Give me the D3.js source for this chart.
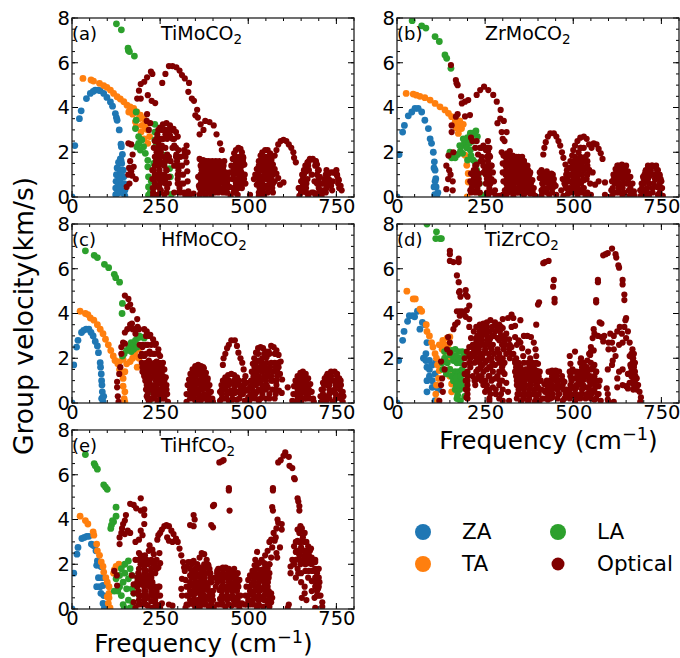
<!DOCTYPE html>
<html><head><meta charset="utf-8">
<script src="https://cdn.jsdelivr.net/npm/d3@7/dist/d3.min.js"></script>
<style>html,body{margin:0;padding:0;background:#fff}svg{display:block;font-family:"DejaVu Sans",sans-serif}</style>
</head><body><svg id="c" width="680" height="658"></svg>
<script>
const names=["TiMoCO","ZrMoCO","HfMoCO","TiZrCO","TiHfCO"];
const letters=["(a)","(b)","(c)","(d)","(e)"];
const xTicks=[0,250,500,750], yTicks=[0,2,4,6,8];
const legendItems=["ZA","TA","LA","Optical"];
const colors={ZA:"#1f77b4",TA:"#ff7f0e",LA:"#2ca02c",Optical:"#800000"};

const zaA=[[0,0],[8,2.3],[21,3.5],[26,3.85],[41,4.4],[52,4.63],[60,4.72],[66,4.78],[74,4.78],[80,4.75],[90,4.63],[99,4.45],[109,4.25],[115,4.06],[123,3.73],[126,3.55],[128,3.43],[134,3.0],[139,2.36],[140,2.25],[143,1.9],[139,1.64],[124,.1],[124,.4],[125,.7],[126,1],[128,1.3],[132,1.55],[137,1.7],[141,1.5],[145,1.2],[147,.9],[148,.6],[150,.3],[150,.05],[131,.2],[131,.6],[133,.9],[136,1.2],[140,1],[141,.6],[141,.2],[136,.4],[136,.8],[128,.15]];
const taA=[[31,5.3],[54,5.23],[61,5.18],[78,5.08],[90,4.98],[99,4.9],[109,4.78],[118,4.63],[128,4.48],[137,4.38],[147,4.26],[156,4.1],[161,3.8],[165,4.03],[175,3.96],[184,3.8],[194,3.66],[203,3.5],[211,3.28],[215,3],[220,2.7],[180,3.36],[182,3.13],[199,3.2],[208,3.06],[196,2.9],[205,2.6],[215,2.4],[190,3.5],[172,3.7]];
const laA=[[126,7.74],[140,7.47],[159,6.65],[160,6.55],[163,6.5],[177,6.3],[182,3.8],[182,3.43],[180,3.06],[189,2.7],[189,2.4],[198,2.55],[203,2.25],[184,2.24],[194,2.1],[208,1.95],[215,1.64],[235,3.25],[235,2.9],[235,2.55],[237,2.25],[250,2.1],[265,1.87],[274,1.64],[277,1.27],[279,.9],[282,.12],[215,1.35],[217,.9],[217,.45],[217,.08],[232,1.5],[222,.2],[225,.7]];
const opA=[[160,2.4],[168,2.35],[172,1.9],[165,1.6],[162,1.3],[160,1],[168,1.15],[175,1.35],[181,.8],[155,.45],[163,.6],[171,.95],[185,4.4],[195,4.4],[190,4.75],[195,5.05],[205,5.15],[213,5.35],[224,5.6],[228,5.5],[215,4.55],[213,3.7],[212,3.4],[222,3.3],[218,3],[226,4.3],[236,4.2],
[265,5.5],[256,5.1],[275,5.85],[285,5.85],[296,5.8],[305,5.65],[312,5.45],[320,5.3],[332,5.1],[330,4.7],[340,4.4],[346,4.3],[355,3.9],[350,3.65],[357,3.55],[365,3.25],[373,3],[362,2.8],[378,3.4],[390,3.35],[402,3.2],[410,2.8],[420,2.4],[425,2.1],[432,1.6],
[228,1.2],[228,.8],[229,.4],[230,.05],[235,2.5],[242,2.8],[250,3.1],[258,3.25],[268,3.3],[278,3.2],[288,3.05],[295,2.9],[300,2.7],[245,2.4],[255,2.6],[265,2.8],[278,2.75],[290,2.6],[240,2],[252,2],[240,1.5],[253,1.5],[241,1],[253,1],[241,.5],[242,.1],[260,1.5],[268,1.2],[275,.9],[258,.8],[265,.6],[252,.3],[262,.1],[270,1.9],[280,1.6],[255,2.3],
[290,2.3],[302,2.1],[308,1.8],[312,1.4],[315,1],[316,.6],[318,.2],[322,.05],[296,1.9],[298,1.4],[300,1],[302,.6],[303,.2],[318,2.1],[325,2.3],[320,1.95],[328,2],[325,1.55],[327,1.15],[328,.7],[330,.25],[332,.05],[345,.15],
[362,1.7],[368,1.3],[358,.9],[360,.5],[362,.1],[372,1.65],[380,1.6],[390,1.55],[400,1.55],[410,1.5],[420,1.45],[428,1.3],[436,1.1],[442,.8],[447,.45],[375,1.2],[385,1.2],[395,1.2],[405,1.2],[415,1.15],[425,1],[375,.8],[385,.85],[395,.85],[405,.8],[415,.8],[428,.65],[375,.4],[385,.45],[398,.45],[410,.4],[425,.3],[437,.2],[378,.05],[395,.05],[450,.05],[470,.1],
[448,1.1],[452,1.4],[456,1.7],[460,1.95],[465,2.1],[472,2.2],[478,2.15],[482,2],[486,1.75],[489,1.45],[465,1.5],[472,1.6],[478,1.4],[462,1.2],[470,1.05],[480,1.1],[456,.8],[465,.7],[458,.4],[490,1],[492,.6],[505,.1],
[516,.8],[520,1],[524,1.25],[530,1.6],[535,1.85],[540,2],[548,2.1],[555,2.1],[562,1.95],[566,1.7],[570,1.45],[575,1.25],[580,1.05],[585,.85],[535,1.2],[545,1.6],[555,1.7],[565,1.2],[545,1.2],[555,1.3],[540,.9],[550,.9],[562,.9],[535,.6],[550,.5],[565,.5],[575,.7],[524,.55],[530,.05],[545,.05],[600,.65],[590,.55],
[575,1.85],[580,2.1],[585,2.35],[592,2.5],[600,2.55],[608,2.5],[615,2.35],[622,2.2],[628,2],[630,1.75],[635,1.55],[645,.4],
[643,.4],[645,.05],[650,.7],[650,.2],[653,1],[658,1.2],[662,1.4],[668,1.55],[675,1.7],[683,1.7],[690,1.6],[695,1.45],[700,1.2],[703,.9],[706,.6],[708,.3],[708,.05],[665,1.15],[672,1.2],[680,1],[688,.7],[662,.7],[660,.3],[670,.05],[655,.45],[685,.2],[692,.05],
[712,.6],[716,.8],[720,1],[728,1.05],[735,1.1],[742,1.1],[748,1.05],[752,.95],[757,.75],[762,.5],[765,.3],[730,.75],[735,.5],[738,.3],[740,.7],[722,.4]];
const rowsA=[[.2,[230,250,268,290,310,365,372,388,392,405,415,428,440,458,465,530,540,555,570,650,665,680,700,720]],[.6,[235,250,275,300,310,365,372,380,392,405,418,432,440,465,475,485,528,540,560,570,655,665,695,725,755]],[1,[235,247,262,305,365,372,382,392,402,412,422,432,440,458,475,485,528,545,560,570,658,695,725,752]],[1.4,[235,247,262,290,305,365,372,382,392,402,412,422,430,460,470,482,530,540,550,560,670,690]],[1.8,[235,248,262,275,295,305,322,465,475,485,540,550,555,560]],[2.2,[232,245,255,265,285,295]],[2.6,[240,250,260,270,285]],[3,[245,255,265,275,285]],
[.4,[232,248,270,305,362,370,380,390,400,410,420,430,440,462,472,482,532,545,558,568,652,664,700,722,758]],[.8,[232,246,265,300,365,375,385,395,405,415,425,435,445,468,478,488,530,542,552,565,655,668,700,728,755]],[1.2,[232,248,268,302,368,378,388,398,408,418,428,458,468,478,530,540,550,562,662,698,722,750]],[1.6,[238,250,265,298,368,378,388,398,408,418,465,475,485,535,545,555,565,672,692]]];

const zaB=[[0,0],[6,1.9],[16,2.9],[21,3.2],[32,3.63],[42,3.8],[51,3.96],[60,3.96],[70,3.8],[79,3.43],[89,3.06],[94,2.6],[98,2.4],[103,2],[106,1.57],[105,1.3],[108,1.2],[110,.82],[111,.45],[113,.08],[105,.45],[108,.7],[116,.2],[107,.1]];
const taB=[[26,4.63],[46,4.6],[55,4.55],[65,4.5],[79,4.44],[94,4.33],[108,4.18],[122,4.03],[136,3.89],[146,3.74],[155,3.59],[165,3.36],[174,3.2],[183,3.06],[174,2.84],[193,1.87],[198,1.42],[202,1.05],[202,.67],[199,0],[178,3.4],[168,3.1],[188,3.25]];
const laB=[[43,7.88],[70,7.65],[82,7.55],[108,7.17],[120,6.95],[136,6.35],[141,6.2],[153,5.75],[150,2],[155,1.75],[165,1.75],[172,1.9],[180,2.05],[186,2.3],[192,2.45],[200,2.65],[208,2.85],[214,2.85],[224,2.95],[228,2.7],[216,2.5],[205,2.4],[198,2.2],[188,2.6],[178,2.3],[186,1.95],[208,2.1],[210,1.85],[216,1.65],[226,1.2],[234,.6],[240,.08],[222,1.55],[230,.95],[200,1.65]];
const opB=[[153,5.9],[167,5.23],[169,5.08],[172,5],[182,4.5],[184,4.18],[193,4.26],[202,4.33],[167,3.59],[172,3.7],[193,3.6],[207,3.66],[155,2.9],[155,3.2],[160,2],[146,1.85],[140,1.4],[148,1.2],[140,.35],[145,.8],[152,1],[158,.7],[158,.3],
[226,4.56],[236,4.78],[247,4.93],[259,4.78],[273,4.56],[283,4.26],[294,3.89],[293,3.5],[303,3.4],[311,2.9],[300,2.6],[297,2.9],[305,2.5],[285,3.3],[214,2.5],[210,2.65],[226,2.5],[235,2.2],[245,2.3],[252,2.1],[258,2.05],[262,1.85],[268,1.4],[272,1.1],[275,.7],[278,.3],[280,.05],[258,2.5],[262,2.2],[222,2.2],[230,1.9],[238,1.6],[246,1.1],[252,.6],[255,.2],[258,.05],
[208,.3],[208,.7],[210,1.05],[218,1.2],[226,1.45],[232,1.05],[234,.6],[225,.8],[215,.5],[222,.25],[232,.2],[290,.05],[300,.1],[310,.05],
[297,2],[302,1.85],[312,1.95],[320,2.05],[300,1.5],[300,1.1],[302,.7],[306,.3],[328,1.85],[338,1.8],[350,1.75],[360,1.6],[370,1.4],[378,1.1],[384,.75],[388,.4],[392,.05],[315,1.5],[325,1.5],[338,1.5],[350,1.4],[360,1.2],[370,.9],[375,.5],[378,.15],[315,1.1],[325,1.15],[338,1.15],[350,.95],[360,.8],[315,.65],[325,.7],[340,.7],[352,.55],[362,.4],[320,.25],[332,.3],[345,.2],[360,.1],[330,.05],
[405,.85],[405,1.1],[415,1],[425,1.15],[438,1.05],[445,.8],[450,.5],[452,.1],[412,.6],[410,.3],[410,.05],[422,.8],[432,.7],[438,.4],[432,.1],[420,.35],
[415,1.9],[418,2.2],[422,2.45],[428,2.7],[435,2.85],[445,2.85],[452,2.7],[458,2.5],[463,2.3],[468,2],[472,1.75],[478,1.45],[482,1.2],[486,.95],[488,.7],[466,.3],[470,.8],[478,.5],[485,.15],[490,.4],[472,.05],[492,1],
[490,1.3],[492,1.6],[497,1.85],[500,2.1],[505,2.3],[512,2.5],[520,2.65],[530,2.7],[538,2.6],[545,2.35],[552,2.2],[558,2.4],[566,2.35],[572,2.15],[578,1.95],[583,1.7],[500,1.5],[508,1.7],[515,2],[522,2.2],[530,2.2],[510,1.3],[520,1.6],[530,1.75],[540,1.9],[505,1],[516,1.05],[530,1.25],[545,1.2],[505,.6],[515,.7],[530,.75],[540,1.6],[505,.25],[518,.3],[530,.4],[535,.05],[512,.05],[555,1.1],[562,.55],[548,.6],[572,.7],[590,.65],[550,.1],[590,.1],
[608,.3],[610,.7],[614,1],[620,1.25],[628,1.4],[638,1.45],[648,1.35],[655,1.15],[662,.9],[668,.6],[672,.25],[674,.05],[610,.05],[622,.7],[622,.2],[635,.9],[645,.9],[652,.6],[658,.3],[632,.5],[640,.05],[660,.05],
[690,.3],[694,.6],[698,.9],[705,1.15],[712,1.3],[722,1.4],[732,1.35],[740,1.2],[745,.95],[750,.7],[752,.4],[754,.05],[692,.05],[705,.7],[705,.3],[715,.9],[725,1],[732,.8],[738,.45],[740,.1],[700,.05],[715,.05]];
const rowsB=[[.2,[210,222,235,262,270,315,328,340,352,365,378,385,412,425,440,495,510,525,540,615,630,645,665,697,710,725,745]],[.6,[212,225,232,258,265,310,320,332,345,358,368,380,415,430,445,475,498,510,522,618,630,642,660,700,715,728,745]],[1,[215,228,252,262,308,320,332,345,358,368,376,410,430,442,480,498,512,525,540,618,628,640,652,702,715,730,745]],[1.4,[222,245,258,268,308,320,332,345,355,365,498,512,525,540,625,640,650,712,725,735]],[1.8,[240,255,264,308,320,332,345,355,505,520,535]],[2.2,[240,250,258,520]],
[.4,[212,228,262,312,322,335,348,360,372,384,415,428,442,480,500,512,528,612,628,640,662,695,710,725,748]],[.8,[218,232,255,268,312,325,338,350,362,374,412,425,438,482,500,512,528,538,615,628,642,656,700,712,735,748]],[1.2,[224,250,262,310,325,338,350,362,372,410,500,515,530,545,622,635,648,706,720,738]],[1.6,[242,258,310,325,338,350,360,505,518,532]]];

const zaC=[[0,0],[5,1.7],[13,2.5],[17,2.8],[27,3.15],[33,3.25],[40,3.3],[48,3.3],[54,3.15],[60,3],[66,2.75],[72,2.55],[75,2.25],[80,1.8],[81,1.6],[83,1.3],[84,1],[85,.8],[86,.5],[87,.25],[88,.05],[84,.2],[90,.3]];
const taC=[[23,4.1],[38,4],[45,3.95],[52,3.8],[62,3.7],[72,3.5],[80,3.3],[88,3.1],[95,2.85],[103,2.6],[110,2.35],[117,2.1],[122,1.9],[130,1.75],[135,1.5],[140,1.3],[145,1.1],[145,.75],[150,.5],[148,.2],[150,.05],[155,1.75],[165,1.85],[178,2.2],[172,2],[188,2.4],[190,2],[145,1.95],[135,1.85],[150,1.4],[185,1.6]];
const laC=[[38,6.8],[63,6.6],[72,6.5],[92,6.2],[104,6.05],[120,5.75],[124,5.6],[135,5.4],[143,4.45],[142,4],[143,2.1],[148,2.2],[155,2.35],[163,2.55],[168,2.7],[175,2.6],[180,2.8],[186,2.9],[190,3],[195,2.95],[205,2.9],[168,2.3],[175,2.4],[185,2.5],[205,1.35],[215,1],[218,.5],[220,.1]];
const opC=[[150,4.8],[160,4.65],[158,4.3],[165,4.4],[172,4.15],[170,3.55],[178,3.3],[185,3.75],[186,3.4],[180,3.1],[190,3.3],[150,3.15],[165,3.5],[172,3.3],[157,3.3],[140,2.5],[145,2.7],[150,2.65],[140,2.2],[137,1.6],[134,1.3],[128,.95],[128,.7],[130,.3],[132,.05],
[205,3.3],[212,3.2],[222,3.05],[230,2.85],[238,2.65],[245,2.4],[250,2.1],[258,1.8],[262,1.5],[266,1.15],[268,.8],[270,.4],[272,.05],[192,2.6],[200,2.5],[210,2.6],[220,2.3],[230,2.2],[240,1.85],[195,2.1],[205,2.1],[218,1.9],[228,1.6],[240,1.3],[250,1],[255,.6],[255,.2],[205,1.6],[215,1.4],[222,1.1],[232,1.2],[235,.8],[225,.6],[228,.2],[240,.4],[243,.05],[212,.3],[218,.05],[205,1.3],[250,1.5],
[325,.05],[325,.4],[328,.8],[332,1.05],[336,1.3],[342,1.5],[350,1.65],[358,1.7],[366,1.65],[374,1.55],[380,1.35],[385,1.1],[390,.8],[394,.5],[398,.2],[400,.05],[340,1],[350,1.25],[362,1.35],[372,1.1],[378,.8],[340,.6],[350,.85],[362,.95],[372,.65],[345,.4],[358,.55],[368,.3],[350,.1],[365,.1],[382,.3],[385,.05],
[420,.1],[420,.5],[424,.8],[428,1],[435,1.15],[443,1.25],[452,1.3],[460,1.25],[468,1.15],[473,1],[480,.7],[485,.4],[490,.1],[435,.75],[445,.9],[455,.9],[465,.8],[472,.5],[440,.4],[450,.55],[462,.45],[468,.15],[430,.2],[445,.1],[455,.15],
[428,1.7],[430,2],[435,2.2],[440,2.45],[445,2.6],[452,2.8],[462,2.8],[468,2.55],[472,2.25],[478,2],[483,1.8],[487,1.5],[492,1.2],[495,.9],[497,.55],[500,.25],[502,.05],
[505,.3],[505,.7],[508,1],[510,1.4],[513,1.75],[517,2],[522,2.25],[528,2.45],[535,2.5],[542,2.45],[550,2.3],[552,2.05],[558,2.3],[565,2.55],[572,2.5],[580,2.35],[586,2.15],[592,1.85],[520,1.6],[530,1.9],[540,2],[525,1.2],[535,1.5],[545,1.6],[555,1.4],[530,.9],[545,1.1],[558,1.2],[570,1],[525,.5],[540,.6],[555,.7],[568,.6],[530,.1],[550,.2],[590,1.3],[596,1.05],[587,.55],[595,.45],[612,.7],
[625,.1],[628,.4],[630,.75],[634,1],[640,1.2],[648,1.35],[655,1.4],[663,1.3],[670,1.1],[676,.85],[680,.5],[684,.2],[686,.05],[645,.85],[655,1],[664,.8],[670,.4],[642,.45],[655,.5],[660,.2],[635,.05],[650,.05],
[705,.3],[708,.6],[712,.9],[717,1.1],[725,1.3],[735,1.4],[745,1.4],[752,1.3],[758,1.1],[763,.8],[768,.5],[770,.3],[708,.05],[725,.8],[740,1],[750,.8],[725,.3],[742,.5],[755,.3],[722,.05],[740,.05],[768,.05]];
const rowsC=[[.2,[215,225,235,250,262,335,345,358,375,390,425,438,455,475,510,520,535,560,575,640,650,665,675,715,730,748,762]],[.6,[210,222,232,245,258,268,335,345,358,368,385,425,435,460,478,492,512,530,550,578,640,650,660,672,712,730,745,760]],[1,[208,220,238,248,262,335,345,360,372,384,432,445,460,470,488,510,520,535,550,565,580,640,650,664,718,732,750,762]],[1.4,[200,212,225,235,245,255,345,355,365,372,515,525,540,555,570,582]],[1.8,[198,210,222,235,248,522,538,552,565,575,585]],[2.2,[198,210,222,235,245,528,545,560,575,580]],[2.6,[200,215,225,235]],[3,[210,220]],
[.4,[215,232,248,262,335,348,360,375,388,425,440,455,478,508,520,540,560,578,635,650,665,712,730,748,765]],[.8,[212,225,240,255,338,350,365,378,385,430,445,460,475,488,510,522,540,552,580,640,655,668,715,730,748,760]],[1.2,[205,218,235,245,258,340,352,368,378,515,530,545,565,582,645,660,722,735,752]],[1.6,[200,215,230,242,255,350,362,372,518,532,548,562,578,586]]];

const zaD=[[0,0],[5,1.9],[16,2.8],[20,3.2],[30,3.65],[35,3.9],[45,3.9],[50,3.85],[58,4.1],[65,3.3],[72,3.6],[80,3.5],[85,2.7],[75,2],[82,2.2],[82,1.9],[92,1.9],[85,1.6],[92,1.5],[100,1.7],[85,1],[92,1.2],[100,1],[108,1.3],[85,.5],[112,.7],[100,.7],[118,.6],[108,.1],[110,1.8]];
const taD=[[28,5],[46,4.65],[52,4.65],[65,4.2],[70,4.1],[83,3.5],[85,3.2],[92,3],[98,2.7],[102,2.5],[108,2.2],[112,2],[115,1.7],[120,1.45],[118,1.1],[112,.8],[110,.4],[115,.1],[130,2.8],[135,2.6],[128,2.4],[135,2.3],[142,2.9],[150,2.95],[120,2.6],[145,2.6],[140,1.9],[155,2],[150,1.5],[150,1.2],[155,.85],[155,.5]];
const laD=[[85,8],[112,7.65],[110,7.35],[122,7.35],[126,7.35],[135,2.3],[128,1.8],[130,1.5],[135,2],[143,1.8],[150,2.15],[155,2.35],[165,2.4],[175,2.3],[185,2.3],[190,2.1],[140,1.3],[150,1.5],[160,1.9],[170,1.8],[180,1.8],[165,1.4],[175,1.4],[185,1.5],[160,1],[172,1],[185,1],[165,.6],[178,.6],[190,.7],[170,.2],[180,.1],[192,.3],[155,1.2],[168,1.15],[180,1.2],[168,.8],[182,.8],[175,2],[158,2.1],[165,2.1],[185,2],[172,.35]];
const opD=[[150,6.8],[150,6.65],[150,6.35],[160,6.3],[175,6.3],[175,6.45],[170,5.7],[175,5.4],[178,5],[176,4.95],[195,5.05],[195,4.85],[180,4.75],[200,4.75],[205,4.35],[198,4.15],[170,4.1],[178,4.1],[185,4.1],[190,3.95],[195,3.85],[205,3.4],[205,3.75],[165,3.5],[160,3.3],[172,3.6],[178,3.9],[145,2.95],[150,2.7],[142,2.4],[150,2.25],[125,1.85],[135,1.5],[130,.5],[125,.8],[128,1.1],[120,.1],
[192,2],[192,1.7],[192,1.3],[195,1],[195,.6],[197,.25],[198,2.3],[205,2.5],[210,2.9],[218,3.2],[225,3.4],[235,3.5],[245,3.55],[255,3.6],[265,3.7],[278,3.6],[290,3.5],[300,3.35],[310,3.1],[318,2.85],[325,2.5],[330,2.2],[335,1.9],[340,1.5],[345,1.1],[348,.8],[350,.4],[352,.05],
[205,2.1],[215,2.6],[225,2.9],[235,3],[245,3.1],[252,3.3],[215,2.1],[228,2.4],[240,2.6],[255,2.8],[265,2.9],[275,3],[225,1.9],[240,2.2],[250,2.3],[265,2.5],[285,2.9],[230,1.5],[242,1.7],[255,1.9],[268,2],[278,1.7],[240,1.2],[255,1.5],[265,1.6],[245,.8],[260,1.2],[280,1.1],[255,.6],[262,.1],[272,.7],[280,.4],[270,1.05],[215,1.2],[225,1.05],[240,1],[250,.5],[290,1.4],[292,1],[285,2.3],[295,2],[300,1.7],[305,1.3],[310,.9],[315,.5],[318,.1],[300,.1],
[300,3.75],[315,3.8],[325,3.95],[330,3.8],[325,3.4],[335,3.45],[350,3.7],[360,3],[335,2.95],[345,2.8],[350,2.7],[355,2.45],[358,2.1],[340,2.6],
[370,3],[380,2.95],[388,2.7],[393,2.4],[395,2.1],[400,1.75],[402,1.4],[408,1],[410,.6],[412,.2],[372,2.3],[378,2],[385,1.7],[392,1.3],[398,.9],[402,.4],[405,.1],[360,1.8],[365,1.5],[355,1.2],[370,1.1],[378,.8],[360,.7],[370,.4],[385,.4],[390,.05],[372,.05],[358,.2],[380,1.3],
[395,1.45],[400,.7],[430,1.4],[440,1.45],[450,1.45],[460,1.4],[468,1.2],[475,.95],[480,.6],[485,.3],[433,1],[445,1.1],[457,1],[465,.7],[435,.6],[450,.7],[460,.4],[440,.25],[470,.1],[428,.15],[420,.5],[418,.85],
[490,2.1],[492,1.75],[498,1.5],[503,1.4],[495,1.1],[505,1.1],[515,1.2],[495,.7],[510,.7],[520,.85],[500,.35],[515,.3],[525,.4],[505,.05],[530,1.4],[535,1.6],[540,1.9],[548,2.15],[550,2.3],[558,2.35],[530,1.05],[540,1.2],[550,1.5],[560,1.7],[565,1.4],[535,.7],[550,.9],[565,1],[572,.75],[540,.35],[555,.5],[572,.4],[578,.1],[560,.15],[505,2.3],[595,.65],[598,.4],[598,.15],
[395,3.5],[400,4.4],[403,4.5],[415,6.25],[420,6.3],[430,6.35],[445,5.5],[443,5.2],[447,4.65],[447,4.5],
[570,5.5],[570,5.4],[565,4.6],[565,4.5],[575,3.6],[580,3.55],[558,3.3],[560,3.1],[555,2.9],[570,3],[580,2.95],[588,3],[585,2.75],[550,2.5],[545,2.2],
[585,6.6],[592,6.65],[598,6.7],[610,6.9],[620,6.65],[622,6.5],[628,6.15],[630,6.05],[640,5.5],[640,5.3],[645,4.85],[645,4.6],[650,3.8],[648,3.7],[645,3.4],[638,3.1],[632,3.4],[625,3.2],[615,3],[605,3.1],[610,2.7],[600,2.7],[615,2.4],[630,2.6],[640,2.7],[650,2.9],[660,2.7],[655,3.2],[600,2.4],[612,1.9],[610,1.7],[598,1.5],[620,2.1],[630,1.4],[625,1.1],[640,1.5],[625,.7],[640,.8],[650,.75],[660,.9],[655,1.3],[665,1.2],[655,.65],[668,2.4],[670,2],[672,1.7],[675,1.4],[680,1.1],[684,.8],[688,.5],[692,.25],[690,.05],[662,1.7],[660,2.1],[600,.05],[615,.05]];
const rowsD=[[.2,[200,262,290,340,360,375,395,420,435,455,475,490,510,520,535,550,565]],[.6,[200,262,280,300,345,360,375,390,405,425,440,455,472,490,505,525,545,560,670,680]],[1,[200,220,250,268,298,340,352,362,378,385,395,405,425,438,452,470,495,515,525,545,555,575,670,675]],[1.4,[200,225,245,272,300,335,345,358,372,385,405,435,445,455,490,510,520,540,565,665,670]],[1.8,[205,220,235,250,270,290,305,335,345,372,385,395,520,530,550,668,675]],[2.2,[212,222,235,245,260,275,290,310,325,665,672]],[2.6,[218,230,248,260,272,298,308,320]],[3,[228,240,255,270,295,305]],[3.4,[240,255,270,285,295]],
[.4,[200,265,295,342,362,378,392,428,442,458,478,492,508,522,538,552,568]],[.8,[200,222,255,290,340,352,365,380,395,428,440,455,470,492,508,528,548,562,672,682]],[1.2,[200,232,262,285,338,350,365,378,390,402,440,452,492,512,528,548,560,668,676]],[1.6,[208,238,262,298,338,350,376,388,525,538,556,664,672]],[2,[208,228,242,262,285,300,320,338,522,668]],[2.4,[218,232,250,268,285,302,318]],[2.8,[225,240,262,290,305]],[3.2,[235,248,262,278,292]]];

const zaE=[[0,0],[5,1.6],[14,2.45],[17,2.75],[28,3.15],[35,3.2],[42,3.25],[48,3.25],[55,2.9],[60,2.85],[65,2.8],[68,2.6],[72,2.15],[70,1.95],[78,2],[82,1.9],[75,1.4],[85,1.4],[70,1],[80,1],[88,1.05],[82,.7],[90,.6],[88,.25],[92,.05],[95,.2]];
const taE=[[23,4.15],[38,3.95],[45,3.8],[60,3.45],[62,3.3],[70,2.9],[72,2.6],[78,2.4],[83,2.1],[88,1.9],[90,1.65],[96,1.4],[100,1.2],[105,1],[105,.7],[100,.55],[103,.25],[108,.05],[105,.5],[120,1.75],[125,1.9],[133,2],[142,1.95],[118,1.6],[128,1.5]];
const laE=[[38,6.9],[63,6.5],[66,6.4],[72,6.25],[90,5.55],[95,5.45],[100,5.35],[125,4.55],[125,4.15],[115,3.95],[112,3.75],[110,3.6],[118,3.9],[160,2.15],[150,2],[140,1.8],[135,1.5],[125,1.35],[120,.8],[130,.8],[135,1],[150,1.6],[165,1.8],[145,1.2],[160,1.35],[170,1.5],[140,.6],[155,.9],[170,.9],[175,.7],[145,.2],[160,.4],[172,.3],[148,.05],[165,.05]];
const opE=[[120,1.7],[127,1.5],[128,1.05],[135,2.9],[135,3.2],[140,3.4],[142,3.6],[145,3.8],[150,3.95],[153,4.2],[150,3.35],[158,3.5],[165,3.4],[165,4.7],[175,4.65],[182,4.5],[195,4.95],[190,3.1],[180,3],[190,2.5],[188,2.2],[180,2.2],[195,2.4],[195,4.4],[205,4.45],[205,4.2],[205,3.8],[195,3.5],[200,3.3],
[170,1.5],[175,1.1],[175,.7],[175,.3],[180,.05],[195,2],[200,2.3],[207,2.4],[208,2],[210,1.7],[215,1.3],[220,1],[225,.7],[225,.35],[228,.05],[205,1.2],[198,1.1],[190,1.5],[208,.8],[215,.5],[215,.15],[205,.3],[220,1.5],[228,1.2],[235,1],[240,.6],[235,.3],[228,.6],[240,.1],[218,2.6],[220,2.85],[228,2.65],[228,2.05],[232,2.45],[236,1.6],[245,1.85],[248,2.5],[250,2.05],[248,1],[250,.6],[255,.25],[250,.05],
[242,3.1],[245,3.3],[250,3.4],[255,3.55],[262,3.7],[268,3.75],[275,3.7],[282,3.5],[288,3.35],[295,3.15],[300,3],[305,2.7],[310,2.4],[315,2.1],[320,1.7],[322,1.3],[325,1],[325,.6],[325,.2],[322,.05],[270,3.2],[275,3.05],[285,3],[285,.15],[275,.2],[318,1.85],[312,1.35],[310,.9],[312,.6],
[335,3.75],[345,4.2],[348,4],[345,3.7],[325,1.9],[330,2.1],[338,2.1],[345,2.15],[355,2],[362,1.85],[370,1.6],[375,1.25],[380,.9],[385,.5],[388,.1],[335,1.5],[345,1.7],[355,1.5],[365,1.2],[340,1.1],[352,1.1],[362,.8],[372,.6],[340,.7],[350,.7],[358,.4],[372,.2],[342,.3],[350,.05],[362,.05],[362,2.3],[368,2.5],[375,2.45],[382,2.2],[387,1.95],[392,1.6],[395,1.2],[397,.8],[400,.4],[402,.05],
[395,3.75],[400,3.65],[400,4.6],[403,4.65],[418,6.55],[425,6.6],[430,6.65],[445,5.4],[445,5.3],[447,4.4],
[405,1.4],[412,1.7],[420,1.8],[428,1.85],[436,1.85],[445,1.7],[452,1.4],[458,1.15],[462,.85],[465,.5],[468,.2],[415,1.3],[425,1.45],[435,1.45],[445,1.3],[450,1],[418,.85],[430,1],[440,.9],[420,.45],[435,.55],[448,.5],[452,.15],[412,.2],[435,.1],[458,1.65],[460,.9],[470,1.6],[475,1.3],[472,1],[478,.6],[482,.25],[475,.05],
[490,.2],[492,.6],[495,1],[500,1.3],[505,1.5],[512,1.7],[518,1.95],[520,2.2],[525,2.55],[530,2.05],[538,1.75],[538,2.2],[545,2.05],[510,1.1],[522,1.4],[530,1.45],[540,1.3],[550,1.6],[560,2],[565,2.3],[555,1.2],[510,.7],[522,.95],[535,.85],[550,.8],[510,.25],[522,.5],[538,.45],[548,.4],[525,.05],[542,.1],[565,.7],[568,.5],[560,.1],[565,.3],
[548,2.4],[555,2.6],[560,3],[568,2.75],[575,3.05],[578,3.2],[580,3.6],[585,3.85],[565,3.1],[572,3.4],[580,2.5],[590,2.75],[595,3.8],[595,3.55],[582,2.3],[568,4.55],[570,4.4],[570,5.4],[570,5.3],[583,4],
[585,6.55],[592,6.65],[600,6.85],[605,7],[615,6.8],[617,6.4],[625,6.3],[630,5.85],[632,5.8],[640,4.95],[642,4.8],[645,4.6],[645,4.4],[648,3.7],[640,3.55],[645,3.4],[652,3.6],[660,3.4],[655,3.2],[650,3],[640,3.05],[630,2.8],[635,2.55],[625,2.2],[640,2.6],[650,2.75],[660,2.6],[670,2.8],[678,2.7],[680,2.3],[685,2.2],[690,2.1],[670,2.05],[628,2],[620,1.9],[620,1.6],[635,1.4],[650,1.6],[662,1.7],[672,1.7],[682,1.7],[695,1.7],[650,1.2],[660,1],[670,1.4],[680,1.25],[695,1.2],[698,.9],[660,.7],[665,.4],[680,.8],[688,.5],[705,.6],[710,.3],[710,.1],[615,.2],[612,.05],[652,.5],[690,.05]];
const rowsE=[[.2,[190,200,210,240,330,345,355,365,380,395,420,428,445,460,495,505,515,530,555]],[.6,[190,200,210,232,245,330,345,365,375,390,398,425,440,455,472,500,515,530,545,558,695,700]],[1,[185,205,225,245,330,345,355,370,385,408,425,440,455,470,505,520,530,545,555,690,700]],[1.4,[185,195,208,225,340,350,365,375,392,410,420,430,440,450,465,515,530,545,558,690,700]],[1.8,[190,205,225,240,335,350,360,375,390,415,430,445,460,525,545,555,640,690,700]],[2.2,[200,212,225,240,635,645,655,665,680,690]],[2.6,[640,650,660,670,675]],[3,[635,645,660,665]],
[.4,[190,205,236,335,348,358,368,378,392,425,440,458,470,500,512,528,545,558]],[.8,[188,205,225,240,335,348,360,372,388,400,425,440,455,468,505,518,530,548,558,695]],[1.2,[185,200,215,335,350,362,378,392,412,428,445,462,470,515,530,545,555,692,702]],[1.6,[188,205,225,340,352,368,380,392,412,428,442,455,520,535,548,560,642,695]],[2,[195,215,235,340,355,375,385,525,550,560,630,648,662,680]],[2.4,[645,660,672]]];

const flat=r=>r.flatMap(([v,fs])=>fs.map(f=>[f,v]));
const panelSeries=[[zaA,taA,laA,opA.concat(flat(rowsA))],[zaB,taB,laB,opB.concat(flat(rowsB))],[zaC,taC,laC,opC.concat(flat(rowsC))],[zaD,taD,laD,opD.concat(flat(rowsD))],[zaE,taE,laE,opE.concat(flat(rowsE))]];
const panelPos=[[72,18],[397,18],[72,224],[397,224],[72,430]];
const W=282,H=179;
const svg=d3.select("#c");
const x=d3.scaleLinear().domain([0,800]).range([0,W]);
const y=d3.scaleLinear().domain([0,8]).range([H,0]);
const xMinor=d3.range(0,801,50), yMinor=d3.range(0,8.01,.5);
const defs=svg.append("defs");
panelSeries.forEach((series,i)=>{
  const [px,py]=panelPos[i];
  defs.append("clipPath").attr("id","clip"+i).append("rect").attr("width",W).attr("height",H);
  const g=svg.append("g").attr("transform",`translate(${px},${py})`);
  const m=g.append("g").attr("clip-path",`url(#clip${i})`);
  ["ZA","TA","LA","Optical"].forEach((k,j)=>{
    m.append("g").selectAll("circle").data(series[j]).join("circle")
      .attr("cx",d=>x(d[0])).attr("cy",d=>y(d[1])).attr("r",k==="Optical"?3.1:3.4).attr("fill",colors[k]);
  });
  const ticks=(vals,len,fn)=>vals.forEach(v=>fn(v,len));
  const tg=g.append("g").attr("stroke","#000").attr("stroke-width",1);
  const hl=(v,l)=>{tg.append("line").attr("x1",x(v)).attr("x2",x(v)).attr("y1",H).attr("y2",H-l);tg.append("line").attr("x1",x(v)).attr("x2",x(v)).attr("y1",0).attr("y2",l);};
  const vl=(v,l)=>{tg.append("line").attr("y1",y(v)).attr("y2",y(v)).attr("x1",0).attr("x2",l);tg.append("line").attr("y1",y(v)).attr("y2",y(v)).attr("x1",W).attr("x2",W-l);};
  ticks(xMinor,3,hl);ticks(xTicks,6,hl);ticks(yMinor,3,vl);ticks(yTicks,6,vl);
  g.append("rect").attr("width",W).attr("height",H).attr("fill","none").attr("stroke","#222").attr("stroke-width",1.3);
  const xa=g.append("g").attr("transform",`translate(0,${H})`).call(d3.axisBottom(x).tickValues(xTicks).tickSize(0).tickPadding(2));
  const ya=g.append("g").call(d3.axisLeft(y).tickValues(yTicks).tickSize(0).tickPadding(2));
  [xa,ya].forEach(a=>{a.select(".domain").remove();a.selectAll("text").attr("font-size",19.5).attr("font-family","DejaVu Sans").attr("fill","#000");});
  g.append("text").attr("x",0).attr("y",22).attr("font-size",18).text(letters[i]);
  const t=g.append("text").attr("x",i%2?88:89).attr("y",22).attr("font-size",19);
  t.append("tspan").text(names[i]);
  t.append("tspan").attr("font-size",13.5).attr("dy",4).text("2");
});
function freqLabel(cx,cy,fs,txt){
  const t=svg.append("text").attr("x",cx).attr("y",cy).attr("font-size",fs).attr("text-anchor","middle");
  t.append("tspan").text(txt);
  t.append("tspan").attr("font-size",fs*.72).attr("dy",-fs*.38).text("−1");
  t.append("tspan").attr("dy",fs*.38).text(")");
}
freqLabel(203.5,652,24.7,"Frequency (cm");
freqLabel(548.5,449,24.7,"Frequency (cm");
svg.append("text").attr("transform","translate(33,316) rotate(-90)").attr("text-anchor","middle").attr("font-size",26.6).text("Group velocity(km/s)");
const lx=[423,558],ly=[532,564];
legendItems.forEach((k,i)=>{
  const col=i<2?0:1,row=i%2;
  svg.append("circle").attr("cx",lx[col]).attr("cy",ly[row]).attr("r",k==="Optical"?6.5:8).attr("fill",colors[k]);
  svg.append("text").attr("x",lx[col]+39).attr("y",ly[row]+7).attr("font-size",21.5).text(k);
});
</script></body></html>
